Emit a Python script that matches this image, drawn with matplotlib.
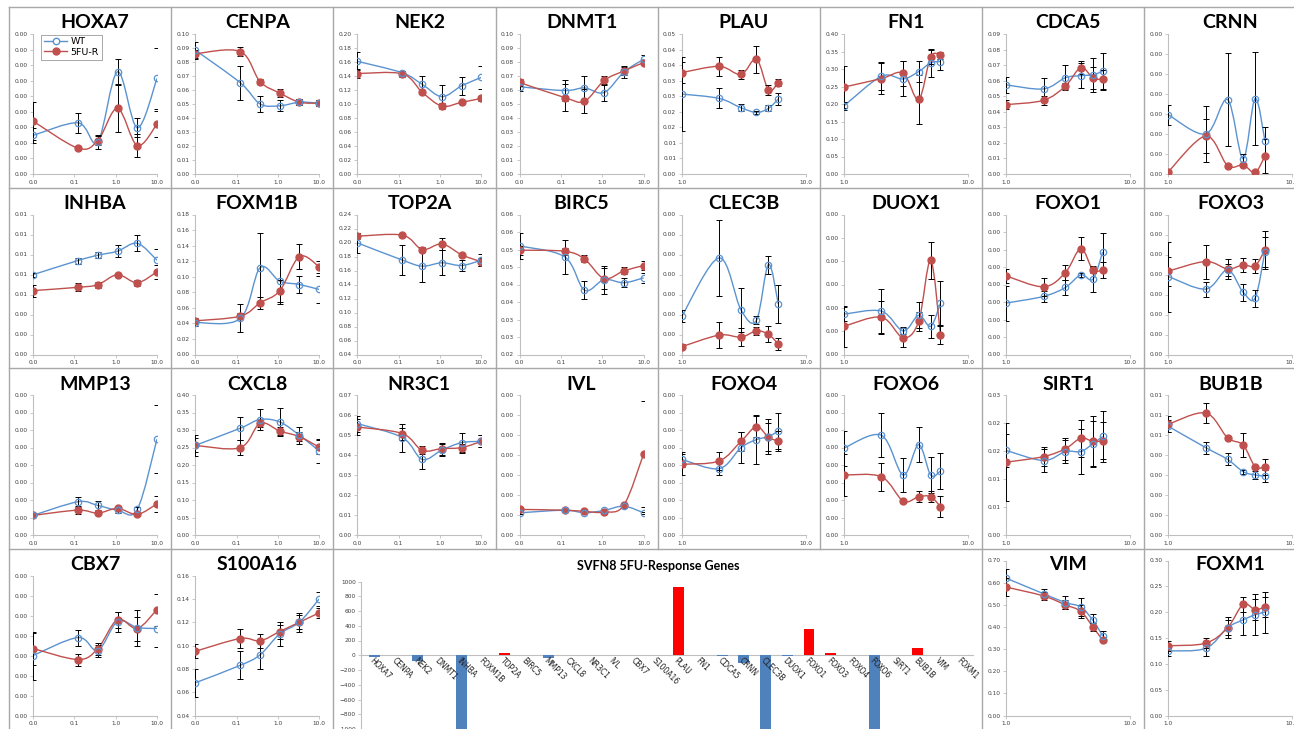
import matplotlib
matplotlib.use("Agg")
import matplotlib.pyplot as plt
from matplotlib.path import Path
from matplotlib.patches import PathPatch
from matplotlib.lines import Line2D
import numpy as np

W, H = 1294, 729

# drug doses on the two kinds of x axis
dose_a = [0.01, 0.123, 0.37, 1.11, 3.33, 10.0]
dose_b = [1, 2, 3, 4, 5, 6]

# expression per gene: WT and 5FU-R means with error
hoxa7_wt = [2.48e-4, 3.29e-4, 2.07e-4, 6.57e-4, 2.97e-4, 6.14e-4]
hoxa7_wt_err = [0.5e-4, 0.65e-4, 0.45e-4, 0.8e-4, 0.6e-4, 1.93e-4]
hoxa7_fu = [3.40e-4, 1.66e-4, 2.15e-4, 4.22e-4, 1.83e-4, 3.21e-4]
hoxa7_fu_err = [1.2e-4, 0.1e-4, 0.3e-4, 1.5e-4, 0.75e-4, 0.82e-4]

cenpa_wt = [0.0885, 0.0652, 0.0501, 0.0487, 0.0513, 0.0506]
cenpa_wt_err = [0.006, 0.012, 0.0055, 0.004, 0.002, 0.002]
cenpa_fu = [0.0859, 0.0875, 0.066, 0.0578, 0.0513, 0.0506]
cenpa_fu_err = [0.003, 0.003, 0.002, 0.003, 0.002, 0.002]

nek2_wt = [0.161, 0.1445, 0.128, 0.1105, 0.126, 0.138]
nek2_wt_err = [0.013, 0.003, 0.012, 0.016, 0.0125, 0.016]
nek2_fu = [0.1435, 0.143, 0.1167, 0.097, 0.1024, 0.108]
nek2_fu_err = [0.006, 0.004, 0.003, 0.004, 0.003, 0.003]

dnmt1_wt = [0.0623, 0.0596, 0.0615, 0.0582, 0.0728, 0.082]
dnmt1_wt_err = [0.003, 0.0075, 0.0085, 0.006, 0.004, 0.003]
dnmt1_fu = [0.0654, 0.0546, 0.0519, 0.0668, 0.0736, 0.0796]
dnmt1_fu_err = [0.0025, 0.0095, 0.0085, 0.003, 0.003, 0.002]

plau_wt = [0.0257, 0.0243, 0.0213, 0.0198, 0.0211, 0.0241]
plau_wt_err = [0.012, 0.0032, 0.0012, 0.0005, 0.001, 0.002]
plau_fu = [0.0326, 0.0346, 0.032, 0.0369, 0.027, 0.0294]
plau_fu_err = [0.0035, 0.003, 0.0015, 0.0043, 0.0015, 0.001]

fn1_wt = [0.1947, 0.279, 0.2715, 0.2926, 0.3175, 0.3213]
fn1_wt_err = [0.012, 0.04, 0.05, 0.03, 0.04, 0.025]
fn1_fu = [0.2484, 0.2724, 0.2878, 0.213, 0.3348, 0.3386]
fn1_fu_err = [0.06, 0.045, 0.035, 0.07, 0.02, 0.01]

cdca5_wt = [0.0573, 0.0547, 0.0619, 0.0632, 0.0638, 0.066]
cdca5_wt_err = [0.005, 0.007, 0.008, 0.008, 0.011, 0.012]
cdca5_fu = [0.0446, 0.0474, 0.0565, 0.0684, 0.0617, 0.0608]
cdca5_fu_err = [0.003, 0.003, 0.002, 0.004, 0.007, 0.006]

crnn_wt = [2.96e-4, 2.0e-4, 3.72e-4, 0.77e-4, 3.77e-4, 1.67e-4]
crnn_wt_err = [0.5e-4, 1.38e-4, 2.34e-4, 0.25e-4, 2.34e-4, 0.7e-4]
crnn_fu = [0.12e-4, 1.9e-4, 0.42e-4, 0.45e-4, 0.08e-4, 0.89e-4]
crnn_fu_err = [0.05e-4, 0.85e-4, 0.08e-4, 0.1e-4, 0.05e-4, 0.85e-4]

inhba_wt = [0.00798, 0.0094, 0.00993, 0.01033, 0.01112, 0.00943]
inhba_wt_err = [0.0002, 0.0003, 0.0003, 0.0006, 0.0008, 0.0011]
inhba_fu = [0.00639, 0.00672, 0.00698, 0.00798, 0.00718, 0.00827]
inhba_fu_err = [0.0006, 0.0004, 0.0003, 0.0002, 0.0003, 0.0007]

foxm1b_wt = [0.0411, 0.0463, 0.1114, 0.0943, 0.09, 0.0836]
foxm1b_wt_err = [0.004, 0.018, 0.045, 0.029, 0.0115, 0.017]
foxm1b_fu = [0.0433, 0.0493, 0.0664, 0.0819, 0.126, 0.1127]
foxm1b_fu_err = [0.003, 0.004, 0.008, 0.014, 0.016, 0.008]

top2a_wt = [0.1995, 0.1748, 0.1662, 0.171, 0.1671, 0.1748]
top2a_wt_err = [0.014, 0.021, 0.022, 0.018, 0.008, 0.009]
top2a_fu = [0.209, 0.2105, 0.19, 0.198, 0.1824, 0.1724]
top2a_fu_err = [0.004, 0.003, 0.004, 0.009, 0.002, 0.006]

birc5_wt = [0.0510, 0.0479, 0.0384, 0.0414, 0.0405, 0.0419]
birc5_wt_err = [0.0038, 0.0049, 0.0025, 0.004, 0.0013, 0.0015]
birc5_fu = [0.0498, 0.0495, 0.0473, 0.0417, 0.0439, 0.0454]
birc5_fu_err = [0.0013, 0.001, 0.001, 0.003, 0.001, 0.0012]

clec3b_wt = [1.91e-4, 4.83e-4, 2.23e-4, 1.71e-4, 4.50e-4, 2.52e-4]
clec3b_wt_err = [0.3e-4, 1.9e-4, 1.1e-4, 0.2e-4, 0.45e-4, 0.95e-4]
clec3b_fu = [0.39e-4, 0.97e-4, 0.87e-4, 1.18e-4, 1.01e-4, 0.52e-4]
clec3b_fu_err = [0.12e-4, 0.65e-4, 0.45e-4, 0.2e-4, 0.4e-4, 0.3e-4]

duox1_wt = [1.73e-4, 1.86e-4, 1.01e-4, 1.68e-4, 1.21e-4, 2.2e-4]
duox1_wt_err = [0.3e-4, 0.95e-4, 0.15e-4, 0.55e-4, 0.5e-4, 0.95e-4]
duox1_fu = [1.21e-4, 1.6e-4, 0.72e-4, 1.42e-4, 4.03e-4, 0.83e-4]
duox1_fu_err = [0.87e-4, 0.7e-4, 0.4e-4, 0.4e-4, 0.8e-4, 0.4e-4]

foxo1_wt = [2.94e-4, 3.32e-4, 3.83e-4, 4.55e-4, 4.30e-4, 5.86e-4]
foxo1_wt_err = [1.0e-4, 0.3e-4, 0.45e-4, 0.1e-4, 0.7e-4, 1.1e-4]
foxo1_fu = [4.49e-4, 3.87e-4, 4.68e-4, 6.05e-4, 4.83e-4, 4.83e-4]
foxo1_fu_err = [0.4e-4, 0.5e-4, 0.45e-4, 0.65e-4, 0.2e-4, 0.45e-4]

foxo3_wt = [3.9e-4, 3.27e-4, 4.23e-4, 3.12e-4, 2.82e-4, 5.15e-4]
foxo3_wt_err = [1.75e-4, 0.38e-4, 0.3e-4, 0.42e-4, 0.42e-4, 0.75e-4]
foxo3_fu = [4.17e-4, 4.65e-4, 4.28e-4, 4.48e-4, 4.43e-4, 5.23e-4]
foxo3_fu_err = [0.73e-4, 0.85e-4, 0.5e-4, 0.35e-4, 0.35e-4, 0.97e-4]

mmp13_wt = [1.12e-4, 1.9e-4, 1.69e-4, 1.42e-4, 1.46e-4, 5.48e-4]
mmp13_wt_err = [0.05e-4, 0.25e-4, 0.25e-4, 0.15e-4, 0.15e-4, 1.95e-4]
mmp13_fu = [1.12e-4, 1.42e-4, 1.25e-4, 1.52e-4, 1.18e-4, 1.78e-4]
mmp13_fu_err = [0.05e-4, 0.2e-4, 0.1e-4, 0.15e-4, 0.1e-4, 0.45e-4]

cxcl8_wt = [0.256, 0.305, 0.330, 0.323, 0.285, 0.240]
cxcl8_wt_err = [0.03, 0.033, 0.03, 0.04, 0.025, 0.035]
cxcl8_fu = [0.256, 0.2495, 0.319, 0.297, 0.281, 0.251]
cxcl8_fu_err = [0.02, 0.022, 0.01, 0.012, 0.012, 0.02]

nr3c1_wt = [0.0557, 0.0487, 0.0378, 0.0425, 0.0462, 0.0468]
nr3c1_wt_err = [0.004, 0.007, 0.005, 0.003, 0.005, 0.003]
nr3c1_fu = [0.054, 0.0507, 0.0423, 0.0432, 0.0437, 0.0468]
nr3c1_fu_err = [0.004, 0.003, 0.002, 0.003, 0.002, 0.003]

ivl_wt = [1.11e-4, 1.24e-4, 1.11e-4, 1.23e-4, 1.44e-4, 1.11e-4]
ivl_wt_err = [0.05e-4, 0.05e-4, 0.05e-4, 0.05e-4, 0.1e-4, 0.05e-4]
ivl_fu = [1.28e-4, 1.24e-4, 1.18e-4, 1.14e-4, 1.49e-4, 4.05e-4]
ivl_fu_err = [0.05e-4, 0.05e-4, 0.05e-4, 0.05e-4, 0.1e-4, 2.63e-4]

foxo4_wt = [4.32e-4, 3.79e-4, 4.99e-4, 5.45e-4, 5.62e-4, 5.94e-4]
foxo4_wt_err = [0.45e-4, 0.35e-4, 0.9e-4, 1.4e-4, 1.0e-4, 1.05e-4]
foxo4_fu = [4.04e-4, 4.23e-4, 5.35e-4, 6.19e-4, 5.58e-4, 5.37e-4]
foxo4_fu_err = [0.6e-4, 0.5e-4, 0.55e-4, 0.6e-4, 0.8e-4, 0.55e-4]

foxo6_wt = [4.97e-4, 5.70e-4, 3.43e-4, 5.16e-4, 3.43e-4, 3.66e-4]
foxo6_wt_err = [1.0e-4, 1.25e-4, 0.95e-4, 1.0e-4, 1.05e-4, 1.05e-4]
foxo6_fu = [3.43e-4, 3.33e-4, 1.94e-4, 2.19e-4, 2.19e-4, 1.62e-4]
foxo6_fu_err = [1.2e-4, 0.8e-4, 0.1e-4, 0.3e-4, 0.3e-4, 0.6e-4]

sirt1_wt = [0.0151, 0.0133, 0.0149, 0.0149, 0.0163, 0.0176]
sirt1_wt_err = [0.003, 0.002, 0.002, 0.004, 0.004, 0.0045]
sirt1_fu = [0.013, 0.014, 0.0154, 0.0173, 0.0167, 0.0168]
sirt1_fu_err = [0.007, 0.0017, 0.002, 0.0033, 0.0045, 0.0033]

bub1b_wt = [0.00543, 0.00437, 0.00378, 0.00317, 0.003, 0.00295]
bub1b_wt_err = [0.0003, 0.0003, 0.0003, 0.0001, 0.0002, 0.0003]
bub1b_fu = [0.00554, 0.0061, 0.00486, 0.0045, 0.00342, 0.0034]
bub1b_fu_err = [0.0004, 0.0005, 0.0001, 0.0006, 0.0001, 0.0004]

cbx7_wt = [3.0e-4, 3.9e-4, 3.25e-4, 4.7e-4, 4.4e-4, 4.35e-4]
cbx7_wt_err = [1.2e-4, 0.4e-4, 0.3e-4, 0.5e-4, 0.9e-4, 0.9e-4]
cbx7_fu = [3.35e-4, 2.8e-4, 3.35e-4, 4.8e-4, 4.35e-4, 5.3e-4]
cbx7_fu_err = [0.8e-4, 0.3e-4, 0.3e-4, 0.4e-4, 0.6e-4, 0.8e-4]

s100a16_wt = [0.068, 0.083, 0.092, 0.11, 0.12, 0.14]
s100a16_wt_err = [0.012, 0.012, 0.012, 0.01, 0.008, 0.006]
s100a16_fu = [0.095, 0.106, 0.104, 0.112, 0.12, 0.128]
s100a16_fu_err = [0.006, 0.008, 0.006, 0.006, 0.006, 0.004]

vim_wt = [0.62, 0.55, 0.51, 0.49, 0.43, 0.36]
vim_wt_err = [0.04, 0.02, 0.03, 0.04, 0.03, 0.02]
vim_fu = [0.58, 0.54, 0.50, 0.47, 0.40, 0.34]
vim_fu_err = [0.04, 0.02, 0.02, 0.03, 0.02, 0.01]

foxm1_wt = [0.125, 0.13, 0.17, 0.185, 0.195, 0.2]
foxm1_wt_err = [0.01, 0.015, 0.02, 0.03, 0.04, 0.04]
foxm1_fu = [0.135, 0.14, 0.17, 0.215, 0.205, 0.21]
foxm1_fu_err = [0.01, 0.01, 0.015, 0.015, 0.02, 0.02]

# summary bar chart
bar_genes = ["HOXA7", "CENPA", "NEK2", "DNMT1", "INHBA", "FOXM1B", "TOP2A", "BIRC5",
             "MMP13", "CXCL8", "NR3C1", "IVL", "CBX7", "S100A16", "PLAU", "FN1",
             "CDCA5", "CRNN", "CLEC3B", "DUOX1", "FOXO1", "FOXO3", "FOXO4", "FOXO6",
             "SIRT1", "BUB1B", "VIM", "FOXM1"]
bar_values = [-30, 8, -80, 5, -1500, 5, 25, 5, -40, 5, 5, 5, 5, 5, 920, 5,
              -12, -100, -1500, -12, 350, 35, 5, -1500, 5, 95, 5, 5]

# (title, row, col, x, wt, wt err, 5fu, 5fu err, y min, y max, y step)
panels = [
    ("HOXA7", 0, 0, dose_a, hoxa7_wt, hoxa7_wt_err, hoxa7_fu, hoxa7_fu_err, 0, 9e-4, 1e-4),
    ("CENPA", 0, 1, dose_a, cenpa_wt, cenpa_wt_err, cenpa_fu, cenpa_fu_err, 0, 0.10, 0.01),
    ("NEK2", 0, 2, dose_a, nek2_wt, nek2_wt_err, nek2_fu, nek2_fu_err, 0, 0.20, 0.02),
    ("DNMT1", 0, 3, dose_a, dnmt1_wt, dnmt1_wt_err, dnmt1_fu, dnmt1_fu_err, 0, 0.10, 0.01),
    ("PLAU", 0, 4, dose_b, plau_wt, plau_wt_err, plau_fu, plau_fu_err, 0, 0.045, 0.005),
    ("FN1", 0, 5, dose_b, fn1_wt, fn1_wt_err, fn1_fu, fn1_fu_err, 0, 0.40, 0.05),
    ("CDCA5", 0, 6, dose_b, cdca5_wt, cdca5_wt_err, cdca5_fu, cdca5_fu_err, 0, 0.09, 0.01),
    ("CRNN", 0, 7, dose_b, crnn_wt, crnn_wt_err, crnn_fu, crnn_fu_err, 0, 7e-4, 1e-4),
    ("INHBA", 1, 0, dose_a, inhba_wt, inhba_wt_err, inhba_fu, inhba_fu_err, 0, 0.014, 0.002),
    ("FOXM1B", 1, 1, dose_a, foxm1b_wt, foxm1b_wt_err, foxm1b_fu, foxm1b_fu_err, 0, 0.18, 0.02),
    ("TOP2A", 1, 2, dose_a, top2a_wt, top2a_wt_err, top2a_fu, top2a_fu_err, 0.04, 0.24, 0.02),
    ("BIRC5", 1, 3, dose_a, birc5_wt, birc5_wt_err, birc5_fu, birc5_fu_err, 0.02, 0.06, 0.005),
    ("CLEC3B", 1, 4, dose_b, clec3b_wt, clec3b_wt_err, clec3b_fu, clec3b_fu_err, 0, 7e-4, 1e-4),
    ("DUOX1", 1, 5, dose_b, duox1_wt, duox1_wt_err, duox1_fu, duox1_fu_err, 0, 6e-4, 1e-4),
    ("FOXO1", 1, 6, dose_b, foxo1_wt, foxo1_wt_err, foxo1_fu, foxo1_fu_err, 0, 8e-4, 1e-4),
    ("FOXO3", 1, 7, dose_b, foxo3_wt, foxo3_wt_err, foxo3_fu, foxo3_fu_err, 0, 7e-4, 1e-4),
    ("MMP13", 2, 0, dose_a, mmp13_wt, mmp13_wt_err, mmp13_fu, mmp13_fu_err, 0, 8e-4, 1e-4),
    ("CXCL8", 2, 1, dose_a, cxcl8_wt, cxcl8_wt_err, cxcl8_fu, cxcl8_fu_err, 0, 0.40, 0.05),
    ("NR3C1", 2, 2, dose_a, nr3c1_wt, nr3c1_wt_err, nr3c1_fu, nr3c1_fu_err, 0, 0.07, 0.01),
    ("IVL", 2, 3, dose_a, ivl_wt, ivl_wt_err, ivl_fu, ivl_fu_err, 0, 7e-4, 1e-4),
    ("FOXO4", 2, 4, dose_b, foxo4_wt, foxo4_wt_err, foxo4_fu, foxo4_fu_err, 0, 8e-4, 1e-4),
    ("FOXO6", 2, 5, dose_b, foxo6_wt, foxo6_wt_err, foxo6_fu, foxo6_fu_err, 0, 8e-4, 1e-4),
    ("SIRT1", 2, 6, dose_b, sirt1_wt, sirt1_wt_err, sirt1_fu, sirt1_fu_err, 0, 0.025, 0.005),
    ("BUB1B", 2, 7, dose_b, bub1b_wt, bub1b_wt_err, bub1b_fu, bub1b_fu_err, 0, 0.007, 0.001),
    ("CBX7", 3, 0, dose_a, cbx7_wt, cbx7_wt_err, cbx7_fu, cbx7_fu_err, 0, 7e-4, 1e-4),
    ("S100A16", 3, 1, dose_a, s100a16_wt, s100a16_wt_err, s100a16_fu, s100a16_fu_err, 0.04, 0.16, 0.02),
    ("VIM", 3, 6, dose_b, vim_wt, vim_wt_err, vim_fu, vim_fu_err, 0, 0.70, 0.10),
    ("FOXM1", 3, 7, dose_b, foxm1_wt, foxm1_wt_err, foxm1_fu, foxm1_fu_err, 0, 0.30, 0.05),
]

# the last two bottom-row charts run taller than the rest
tall_panels = ("VIM", "FOXM1")

BLUE = "#5B93D0"
RED = "#C0504D"
BAR_BLUE = "#4F81BD"
BAR_RED = "#FF0000"
GRID = "#A8A8A8"
SPINE = "#BFBFBF"
TICKTXT = "#404040"

col_left = [9 + 162.2 * i for i in range(9)]
row_top = [7 + 180.5 * j for j in range(5)]


def fx(px):
    return px / W


def fy(py):
    return 1 - py / H


def smooth_curve(ax, xs, ys, color):
    # Catmull-Rom style bezier through the points, built in log-x space
    u = np.log10(np.asarray(xs, float))
    v = np.asarray(ys, float)
    pts = np.column_stack([u, v])
    n = len(pts)
    verts = [pts[0]]
    codes = [Path.MOVETO]
    for i in range(n - 1):
        p0 = pts[i - 1] if i > 0 else pts[i]
        p3 = pts[i + 2] if i + 2 < n else pts[i + 1]
        c1 = pts[i] + (pts[i + 1] - p0) / 6.0
        c2 = pts[i + 1] - (p3 - pts[i]) / 6.0
        verts += [c1, c2, pts[i + 1]]
        codes += [Path.CURVE4] * 3
    verts = np.array(verts)
    verts[:, 0] = 10 ** verts[:, 0]
    ax.add_patch(PathPatch(Path(verts, codes), fill=False, edgecolor=color,
                           linewidth=1.0, zorder=2))


def two_dec(v, pos=None):
    return "%.2f" % (np.floor(v * 100 + 0.5 + 1e-6) / 100)


fig = plt.figure(figsize=(W / 100, H / 100), dpi=100)
fig.patch.set_facecolor("white")

# table-like cell borders; the bar chart cell spans four columns
for i, x in enumerate(col_left[:8]):
    bottom_px = row_top[3] if i in (3, 4, 5) else H
    fig.add_artist(Line2D([fx(x), fx(x)], [fy(bottom_px), fy(row_top[0])],
                          color=GRID, lw=1.0))
for y in row_top[:4]:
    fig.add_artist(Line2D([fx(col_left[0]), 1], [fy(y), fy(y)], color=GRID, lw=1.0))

for (name, r, c, xs, wt, wte, fu, fue, ylo, yhi, ystep) in panels:
    left = col_left[c] + 24
    top = row_top[r] + (12 if name in tall_panels else 27)
    bottom = row_top[r] + 167
    ax = fig.add_axes([fx(left), fy(bottom), 124 / W, (bottom - top) / H])
    ax.set_xscale("log")
    if xs is dose_a:
        ax.set_xlim(0.01, 10)
        ax.set_xticks([0.01, 0.1, 1, 10])
        ax.set_xticklabels(["0.0", "0.1", "1.0", "10.0"])
    else:
        ax.set_xlim(1, 10)
        ax.set_xticks([1, 10])
        ax.set_xticklabels(["1.0", "10.0"])
    ax.minorticks_off()
    ax.set_ylim(ylo, yhi)
    ax.set_yticks(np.arange(ylo, yhi + ystep / 2, ystep))
    ax.yaxis.set_major_formatter(plt.FuncFormatter(two_dec))
    for s in ("top", "right"):
        ax.spines[s].set_visible(False)
    for s in ("left", "bottom"):
        ax.spines[s].set_color(SPINE)
        ax.spines[s].set_linewidth(0.8)
    ax.tick_params(axis="both", labelsize=4.2, colors=SPINE, labelcolor=TICKTXT,
                   length=2, width=0.6, pad=2)
    ax.patch.set_alpha(0)

    smooth_curve(ax, xs, wt, BLUE)
    smooth_curve(ax, xs, fu, RED)
    ax.errorbar(xs, wt, yerr=wte, fmt="none", ecolor="black", elinewidth=0.7,
                capsize=2.2, capthick=0.7, zorder=3)
    ax.errorbar(xs, fu, yerr=fue, fmt="none", ecolor="black", elinewidth=0.7,
                capsize=2.2, capthick=0.7, zorder=3)
    ax.plot(xs, fu, "o", color=RED, markersize=5, zorder=4, label="5FU-R")
    ax.plot(xs, wt, "o", markerfacecolor="none", markeredgecolor=BLUE,
            markeredgewidth=0.9, markersize=4.6, zorder=5, label="WT")

    fig.text(fx(left + 62), fy(row_top[r] + 16), name, ha="center", va="center",
             fontsize=14, fontweight="bold", family="Lato")

    if name == "HOXA7":
        h_wt = Line2D([], [], color=BLUE, marker="o", markerfacecolor="white",
                      markeredgecolor=BLUE, markersize=4.6, lw=1.0)
        h_fu = Line2D([], [], color=RED, marker="o", markersize=5, lw=1.0)
        leg = ax.legend([h_wt, h_fu], ["WT", "5FU-R"], loc="upper left",
                        bbox_to_anchor=(0.03, 1.03), fontsize=6.8, frameon=True,
                        fancybox=False, borderpad=0.3, handlelength=2.4,
                        handletextpad=0.4, labelspacing=0.15)
        leg.get_frame().set_edgecolor("#808080")
        leg.get_frame().set_linewidth(0.6)

# summary bars across the middle of the bottom row
bx0 = col_left[2] + 28
bx1 = col_left[6] - 8
btop = row_top[3] + 33
axb = fig.add_axes([fx(bx0), fy(H + 0), (bx1 - bx0) / W, (H - btop) / H])
pos = np.arange(len(bar_genes))
axb.bar(pos, bar_values, width=0.5,
        color=[BAR_RED if v > 0 else BAR_BLUE for v in bar_values], zorder=2)
axb.set_xlim(-0.6, len(bar_genes) - 0.4)
axb.set_ylim(-1000, 1000)
axb.set_yticks(np.arange(-1000, 1001, 200))
axb.axhline(0, color=SPINE, lw=0.8, zorder=1)
for s in ("top", "right", "bottom"):
    axb.spines[s].set_visible(False)
axb.spines["left"].set_color(SPINE)
axb.tick_params(axis="y", labelsize=4.2, colors=SPINE, labelcolor=TICKTXT,
                length=2, width=0.6, pad=2)
axb.set_xticks([])
for i, g in enumerate(bar_genes):
    axb.text(i, -15, g, rotation=-45, ha="left", va="top", fontsize=5.5,
             color="#202020", rotation_mode="anchor", zorder=3)
fig.text(fx((col_left[2] + col_left[6]) / 2), fy(row_top[3] + 18),
         "SVFN8 5FU-Response Genes", ha="center", va="center", fontsize=9,
         fontweight="bold", family="Lato")

fig.savefig("out.png", dpi=100)
